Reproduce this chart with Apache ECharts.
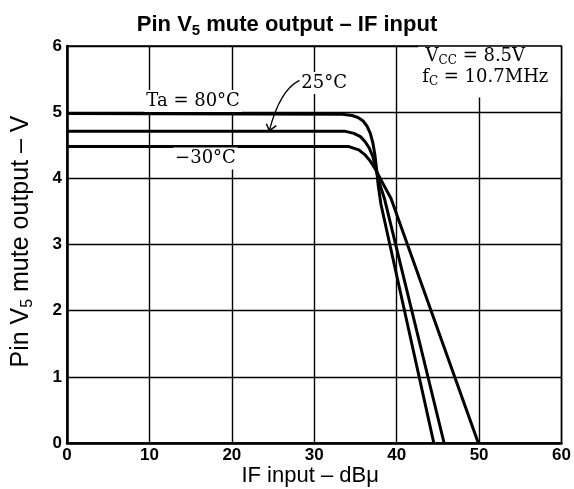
<!DOCTYPE html>
<html><head><meta charset="utf-8">
<script src="https://cdn.jsdelivr.net/npm/echarts@6/dist/echarts.min.js"></script>
<style>html,body{margin:0;padding:0;background:#fff}#c{width:574px;height:489px}</style>
</head><body><div id="c"></div>
<script>
// ---- data ----
const xTicks = [0, 10, 20, 30, 40, 50, 60];
const yTicks = [0, 1, 2, 3, 4, 5, 6];
const curveTa80 = [[0,4.98],[33.4,4.97],[34.6,4.95],[35.3,4.92],[35.9,4.87],[36.4,4.79],[36.8,4.68],[37.1,4.54],[37.35,4.36],[37.55,4.15],[37.75,3.9],[38.1,3.6],[44.5,0]];
const curveTa25 = [[0,4.71],[33.8,4.71],[34.8,4.68],[35.6,4.63],[36.2,4.55],[36.7,4.45],[37.1,4.33],[37.45,4.17],[37.8,3.97],[38.5,3.7],[45.75,0]];
const curveTaM30 = [[0,4.48],[34.2,4.48],[35.4,4.43],[36.2,4.35],[36.8,4.26],[37.4,4.14],[38.0,4.0],[38.6,3.86],[39.3,3.7],[49.9,0]];
const seriesNames = ['Ta = 80°C', '25°C', '−30°C'];

const chart = echarts.init(document.getElementById('c'), null, {renderer: 'canvas'});
const sans = 'Liberation Sans, Arial, sans-serif';
const serif = 'DejaVu Serif, serif';

const lineSeries = (name, data) => ({
  type: 'line', name, data, showSymbol: false, smooth: false,
  lineStyle: {color: '#000', width: 3, join: 'round'}, z: 5, animation: false
});

chart.setOption({
  animation: false,
  backgroundColor: '#fff',
  title: {
    left: 'center', top: 7,
    text: '{b|Pin V}{s|5}{b| mute output – IF input}',
    textStyle: {
      rich: {
        b: {fontSize: 22, fontWeight: 'bold', fontFamily: sans, color: '#000', lineHeight: 26},
        s: {fontSize: 15, fontWeight: 'bold', fontFamily: sans, color: '#000', lineHeight: 13, verticalAlign: 'bottom'}
      }
    }
  },
  grid: {left: 67, right: 12, top: 46, bottom: 46, show: true, borderColor: '#000', borderWidth: 1.5},
  xAxis: {
    type: 'value', min: xTicks[0], max: xTicks[xTicks.length - 1], interval: xTicks[1] - xTicks[0],
    axisLine: {show: true, lineStyle: {color: '#000', width: 2.5}},
    axisTick: {show: false},
    splitLine: {show: true, lineStyle: {color: '#000', width: 1.4}},
    axisLabel: {color: '#000', fontSize: 17, fontWeight: 'bold', fontFamily: sans, margin: 4},
  },
  yAxis: {
    type: 'value', min: yTicks[0], max: yTicks[yTicks.length - 1], interval: yTicks[1] - yTicks[0],
    axisLine: {show: true, lineStyle: {color: '#000', width: 2.5}},
    axisTick: {show: false},
    splitLine: {show: true, lineStyle: {color: '#000', width: 1.4}},
    axisLabel: {color: '#000', fontSize: 17, fontWeight: 'bold', fontFamily: sans, margin: 5},
  },
  series: [
    lineSeries(seriesNames[0], curveTa80),
    lineSeries(seriesNames[1], curveTa25),
    lineSeries(seriesNames[2], curveTaM30)
  ]
});

// ---- annotations (placed in data coordinates) ----
const P = (x, y) => chart.convertToPixel({gridIndex: 0}, [x, y]);
const rich = {
  n: {fontSize: 18, fontFamily: serif, color: '#000', lineHeight: 22},
  s: {fontSize: 12, fontFamily: serif, color: '#000', lineHeight: 10, verticalAlign: 'bottom'}
};
const lab80 = P(15.3, 5.17), labM30 = P(16.8, 4.3), lab25 = P(31.2, 5.44);
const vcc = P(43.5, 5.85), fc = P(43.1, 5.53);
const boxA = P(42.6, 5.99), boxB = P(59.85, 5.22);
const a0 = P(28.2, 5.48), ac = P(25.8, 5.33), a1 = P(24.55, 4.72);
const mkText = (pt, text, align) => ({
  type: 'text', x: pt[0], y: pt[1], z: 20,
  style: {text, rich, align: align || 'center', verticalAlign: 'middle',
          backgroundColor: '#fff', padding: [0, 2, 0, 2]}
});
chart.setOption({
  graphic: [
    {type: 'rect', shape: {x: boxA[0], y: boxA[1], width: boxB[0] - boxA[0], height: boxB[1] - boxA[1]},
     style: {fill: '#fff'}, z: 15},
    mkText(lab80, '{n|' + seriesNames[0] + '}'),
    mkText(labM30, '{n|' + seriesNames[2] + '}'),
    mkText(lab25, '{n|' + seriesNames[1] + '}'),
    {type: 'text', x: vcc[0], y: vcc[1], z: 20,
     style: {text: '{n|V}{s|CC}{n| = 8.5V}', rich, align: 'left', verticalAlign: 'middle'}},
    {type: 'text', x: fc[0], y: fc[1], z: 20,
     style: {text: '{n|f}{s|C}{n| = 10.7MHz}', rich, align: 'left', verticalAlign: 'middle'}},
    {type: 'bezierCurve', z: 20,
     shape: {x1: a0[0], y1: a0[1], cpx1: ac[0], cpy1: ac[1], x2: a1[0], y2: a1[1]},
     style: {stroke: '#000', lineWidth: 1.3, fill: null}},
    {type: 'polyline', z: 20,
     shape: {points: [[a1[0] - 3, a1[1] - 7], [a1[0], a1[1]], [a1[0] + 7, a1[1] - 5]]},
     style: {stroke: '#000', lineWidth: 1.5, fill: null}},
    {type: 'text', x: 21, y: P(0, 3)[1] - 3, rotation: Math.PI / 2, z: 20,
     style: {text: '{r|Pin V}{s|5}{r| mute output – V}', align: 'center', verticalAlign: 'middle',
       rich: {r: {fontSize: 25, fontFamily: sans, color: '#000', lineHeight: 30},
              s: {fontSize: 16, fontFamily: sans, color: '#000', lineHeight: 15, verticalAlign: 'bottom'}}}},
    {type: 'text', x: P(29.5, 0)[0], y: 476, z: 20,
     style: {text: 'IF input – dBμ', align: 'center', verticalAlign: 'middle',
       fontSize: 22, fontFamily: sans, fill: '#000'}}
  ]
});
</script></body></html>
